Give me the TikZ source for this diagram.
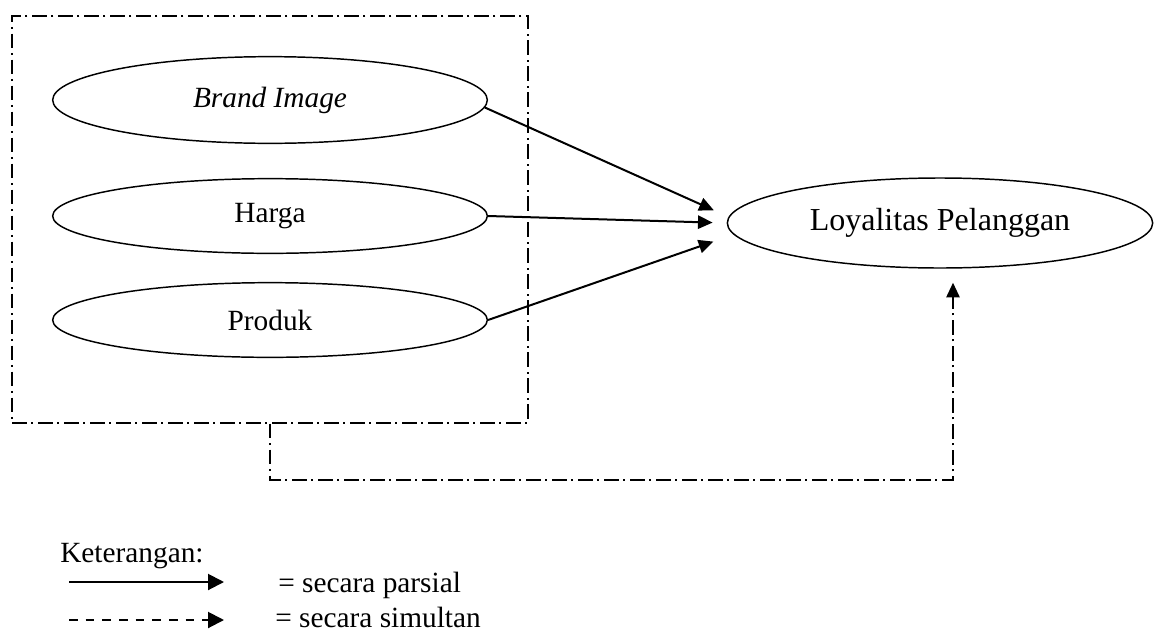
\documentclass[tikz,border=0pt]{standalone}
\usepackage{fontspec}
\setmainfont{Liberation Serif}
\usetikzlibrary{arrows.meta, shapes.geometric}

\begin{document}
\begin{tikzpicture}[x=0.75pt, y=-0.75pt,
  varnode/.style={ellipse, draw, line width=1.1pt, inner sep=0pt, font=\fontsize{22}{26}\selectfont},
  partial/.style={-{Triangle[length=11pt, width=10pt]}, line width=1.5pt},
  simult/.style={-{Triangle[length=11pt, width=10pt]}, line width=1.3pt,
    dash pattern=on 11pt off 3.5pt on 1.5pt off 3.5pt},
  legtext/.style={anchor=base west, inner sep=0pt, font=\fontsize{22}{26}\selectfont}]
  \useasboundingbox (0,0) rectangle (1156,632);

  % Independent variables in the group box
  \node[draw, line width=1.3pt, dash pattern=on 11pt off 3.5pt on 1.5pt off 3.5pt,
    minimum width=387pt, minimum height=305pt, inner sep=0pt] (grp) at (270,219.5) {};
  \node[varnode, minimum width=326pt, minimum height=65pt] (brand) at (270,100) {\textit{Brand Image}};
  \node[varnode, minimum width=326pt, minimum height=56pt] (harga) at (270,216) {Harga};
  \node[varnode, minimum width=326pt, minimum height=56pt] (produk) at (270,320) {Produk};

  % Dependent variable
  \node[ellipse, draw, line width=1.1pt, inner sep=0pt, minimum width=319pt, minimum height=67.5pt,
    font=\fontsize{24}{28}\selectfont] (loyal) at (940,223) {Loyalitas Pelanggan};

  % Partial effects
  \draw[partial, shorten >=10.5pt] (brand.-2) -- ([yshift=5.25pt]loyal.west);
  \draw[partial, shorten >=10.5pt] (harga.east) -- (loyal.west);
  \draw[partial, shorten >=10.5pt] (produk.east) -- ([yshift=-10.5pt]loyal.west);

  % Simultaneous effect
  \draw[simult, shorten >=10.5pt] (grp.south) -- ++(0,56) -| ([xshift=9.75pt]loyal.south);

  % Legend
  \node[legtext] (ket) at (60,562) {Keterangan:};
  \coordinate (pa) at (69,582);
  \coordinate (pb) at (224,582);
  \coordinate (sa) at (69,620);
  \coordinate (sb) at (224,620);
  \draw[-{Triangle[length=12pt, width=12pt]}, line width=1.5pt] (pa) -- (pb);
  \draw[-{Triangle[length=12pt, width=12pt]}, line width=1.5pt, dash pattern=on 6.5pt off 6pt] (sa) -- (sb);
  \node[legtext] (lpar) at (278,592) {= secara parsial};
  \node[legtext] (lsim) at (275,627) {= secara simultan};

\end{tikzpicture}
\end{document}
